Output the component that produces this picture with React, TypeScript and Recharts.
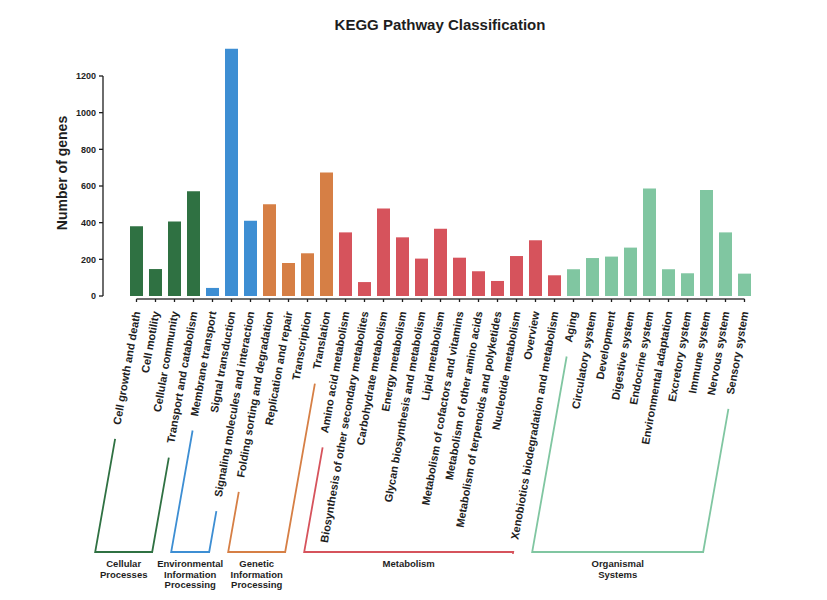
import React from "react";
import { BarChart, Bar, XAxis, YAxis, Cell } from "recharts";

const categories = [
  "Cell growth and death", "Cell motility", "Cellular community", "Transport and catabolism",
  "Membrane transport", "Signal transduction", "Signaling molecules and interaction",
  "Folding sorting and degradation", "Replication and repair", "Transcription", "Translation",
  "Amino acid metabolism", "Biosynthesis of other secondary metabolites", "Carbohydrate metabolism",
  "Energy metabolism", "Glycan biosynthesis and metabolism", "Lipid metabolism",
  "Metabolism of cofactors and vitamins", "Metabolism of other amino acids",
  "Metabolism of terpenoids and polyketides", "Nucleotide metabolism", "Overview",
  "Xenobiotics biodegradation and metabolism",
  "Aging", "Circulatory system", "Development", "Digestive system", "Endocrine system",
  "Environmental adaptation", "Excretory system", "Immune system", "Nervous system", "Sensory system",
];

const geneCounts = [
  380, 147, 407, 571,
  44, 1349, 411,
  500, 180, 233, 673,
  347, 76, 477, 320, 204, 367, 209, 135, 82, 218, 304, 113,
  146, 207, 215, 264, 586, 146, 124, 578, 347, 122,
];

const groupNames = [
  "Cellular Processes",
  "Environmental Information Processing",
  "Genetic Information Processing",
  "Metabolism",
  "Organismal Systems",
];
const groupSizes = [4, 3, 4, 12, 10];
const yTicks = [0, 200, 400, 600, 800, 1000, 1200];

const groupColors = ["#2f7142", "#3d8ed3", "#d67f45", "#d6535c", "#80c6a1"];

// group index + first index of each group
const groupOf: number[] = [];
const groupStart: number[] = [];
groupSizes.forEach((n, g) => {
  groupStart.push(groupOf.length);
  for (let k = 0; k < n; k++) groupOf.push(g);
});

const data = categories.map((name, i) => ({ name, count: geneCounts[i] }));

// layout
const W = 827;
const H = 600;
const Y_MAX = 1400;
const PLOT_BOTTOM = 296;
const PX_PER_UNIT = 220 / 1200;
const MARGIN_TOP = PLOT_BOTTOM - Y_MAX * PX_PER_UNIT;
const Y_AXIS_W = 103;
const MARGIN_RIGHT = 73;
const PAD_LEFT = 24;
const BAND = (W - MARGIN_RIGHT - Y_AXIS_W - PAD_LEFT) / categories.length;
const FONT = 'Arial, "Liberation Sans", Helvetica, sans-serif';
const INK = "#1e1e1e";
const ANGLE = 80;
const COS = Math.cos((ANGLE * Math.PI) / 180);
const SIN = Math.sin((ANGLE * Math.PI) / 180);
const BRACKET_Y = 552;
const ARM_GAP = 14;

let ctx: CanvasRenderingContext2D | null = null;
function textWidth(s: string, font: string) {
  if (!ctx) ctx = document.createElement("canvas").getContext("2d");
  if (!ctx) return s.length * 6;
  ctx.font = font;
  return ctx.measureText(s).width;
}

function arm(tickX: number, label: string) {
  const x0 = tickX + 1;
  const y0 = PLOT_BOTTOM + 16;
  const t = textWidth(label, `bold 11px ${FONT}`) + ARM_GAP;
  const top = { x: x0 - t * COS, y: y0 + t * SIN };
  const bottom = { x: x0 - ((BRACKET_Y - y0) * COS) / SIN, y: BRACKET_Y };
  return { top, bottom };
}

function CategoryTick(props: any) {
  const { x, index } = props;
  const i = index as number;
  const n = categories.length;
  const axisY = PLOT_BOTTOM + 3;
  const x1 = i === 0 ? x : x - BAND / 2;
  const x2 = i === n - 1 ? x : x + BAND / 2;
  const g = groupOf[i];
  const last = groupStart[g] + groupSizes[g] - 1;
  let bracket = null;
  if (i === last) {
    const first = groupStart[g];
    const firstX = x - (last - first) * BAND;
    const a = arm(firstX, categories[first]);
    const b = arm(x, categories[last]);
    const cx = (a.bottom.x + b.bottom.x) / 2;
    const words = groupNames[g].split(" ");
    bracket = (
      <g>
        <polyline
          points={`${a.top.x},${a.top.y} ${a.bottom.x},${a.bottom.y} ${b.bottom.x},${b.bottom.y} ${b.top.x},${b.top.y}`}
          fill="none"
          stroke={groupColors[g]}
          strokeWidth={1.8}
        />
        <text textAnchor="middle" fontFamily={FONT} fontWeight="bold" fontSize={9.5} fill={INK}>
          {words.map((w, k) => (
            <tspan key={k} x={cx} y={567 + k * 10.5}>{w}</tspan>
          ))}
        </text>
      </g>
    );
  }
  return (
    <g>
      <line x1={x1} y1={axisY} x2={x2} y2={axisY} stroke={INK} strokeWidth={1.3} />
      <line x1={x} y1={axisY} x2={x} y2={axisY + 3} stroke={INK} strokeWidth={1.3} />
      <text
        transform={`translate(${x + 4},${PLOT_BOTTOM + 16}) rotate(-${ANGLE})`}
        textAnchor="end"
        fontFamily={FONT}
        fontWeight="bold"
        fontSize={11}
        fill={INK}
      >
        {categories[i]}
      </text>
      {bracket}
    </g>
  );
}

function ValueTick(props: any) {
  const { y, payload } = props;
  const ax = Y_AXIS_W;
  return (
    <g>
      {payload.value === 0 && (
        <line x1={ax} y1={y} x2={ax} y2={y - 1200 * PX_PER_UNIT} stroke={INK} strokeWidth={1.3} />
      )}
      <line x1={ax - 4} y1={y} x2={ax} y2={y} stroke={INK} strokeWidth={1.3} />
      <text x={ax - 7} y={y + 3.2} textAnchor="end" fontFamily={FONT} fontWeight="bold" fontSize={9} fill={INK}>
        {payload.value}
      </text>
    </g>
  );
}

function YLabel() {
  return (
    <text
      transform="translate(67,173) rotate(-90)"
      textAnchor="middle"
      fontFamily={FONT}
      fontWeight="bold"
      fontSize={14}
      fill={INK}
    >
      Number of genes
    </text>
  );
}

export default function App() {
  return (
    <div style={{ position: "absolute", left: 0, top: 0, width: W, height: H, background: "#fff" }}>
      <div
        style={{
          position: "absolute",
          left: 440,
          top: 16,
          transform: "translateX(-50%)",
          fontFamily: FONT,
          fontWeight: "bold",
          fontSize: 15,
          color: INK,
          whiteSpace: "nowrap",
        }}
      >
        KEGG Pathway Classification
      </div>
      <BarChart
        width={W}
        height={H}
        data={data}
        margin={{ top: MARGIN_TOP, right: MARGIN_RIGHT, bottom: 0, left: 0 }}
        barCategoryGap={3}
      >
        <XAxis
          dataKey="name"
          interval={0}
          height={H - PLOT_BOTTOM}
          axisLine={false}
          tickLine={false}
          tickSize={0}
          padding={{ left: PAD_LEFT, right: 0 }}
          tick={<CategoryTick />}
        />
        <YAxis
          type="number"
          domain={[0, Y_MAX]}
          ticks={yTicks}
          width={Y_AXIS_W}
          axisLine={false}
          tickLine={false}
          tickSize={0}
          tick={<ValueTick />}
          label={<YLabel />}
        />
        <Bar dataKey="count" isAnimationActive={false}>
          {data.map((d, i) => (
            <Cell key={d.name} fill={groupColors[groupOf[i]]} />
          ))}
        </Bar>
      </BarChart>
    </div>
  );
}
